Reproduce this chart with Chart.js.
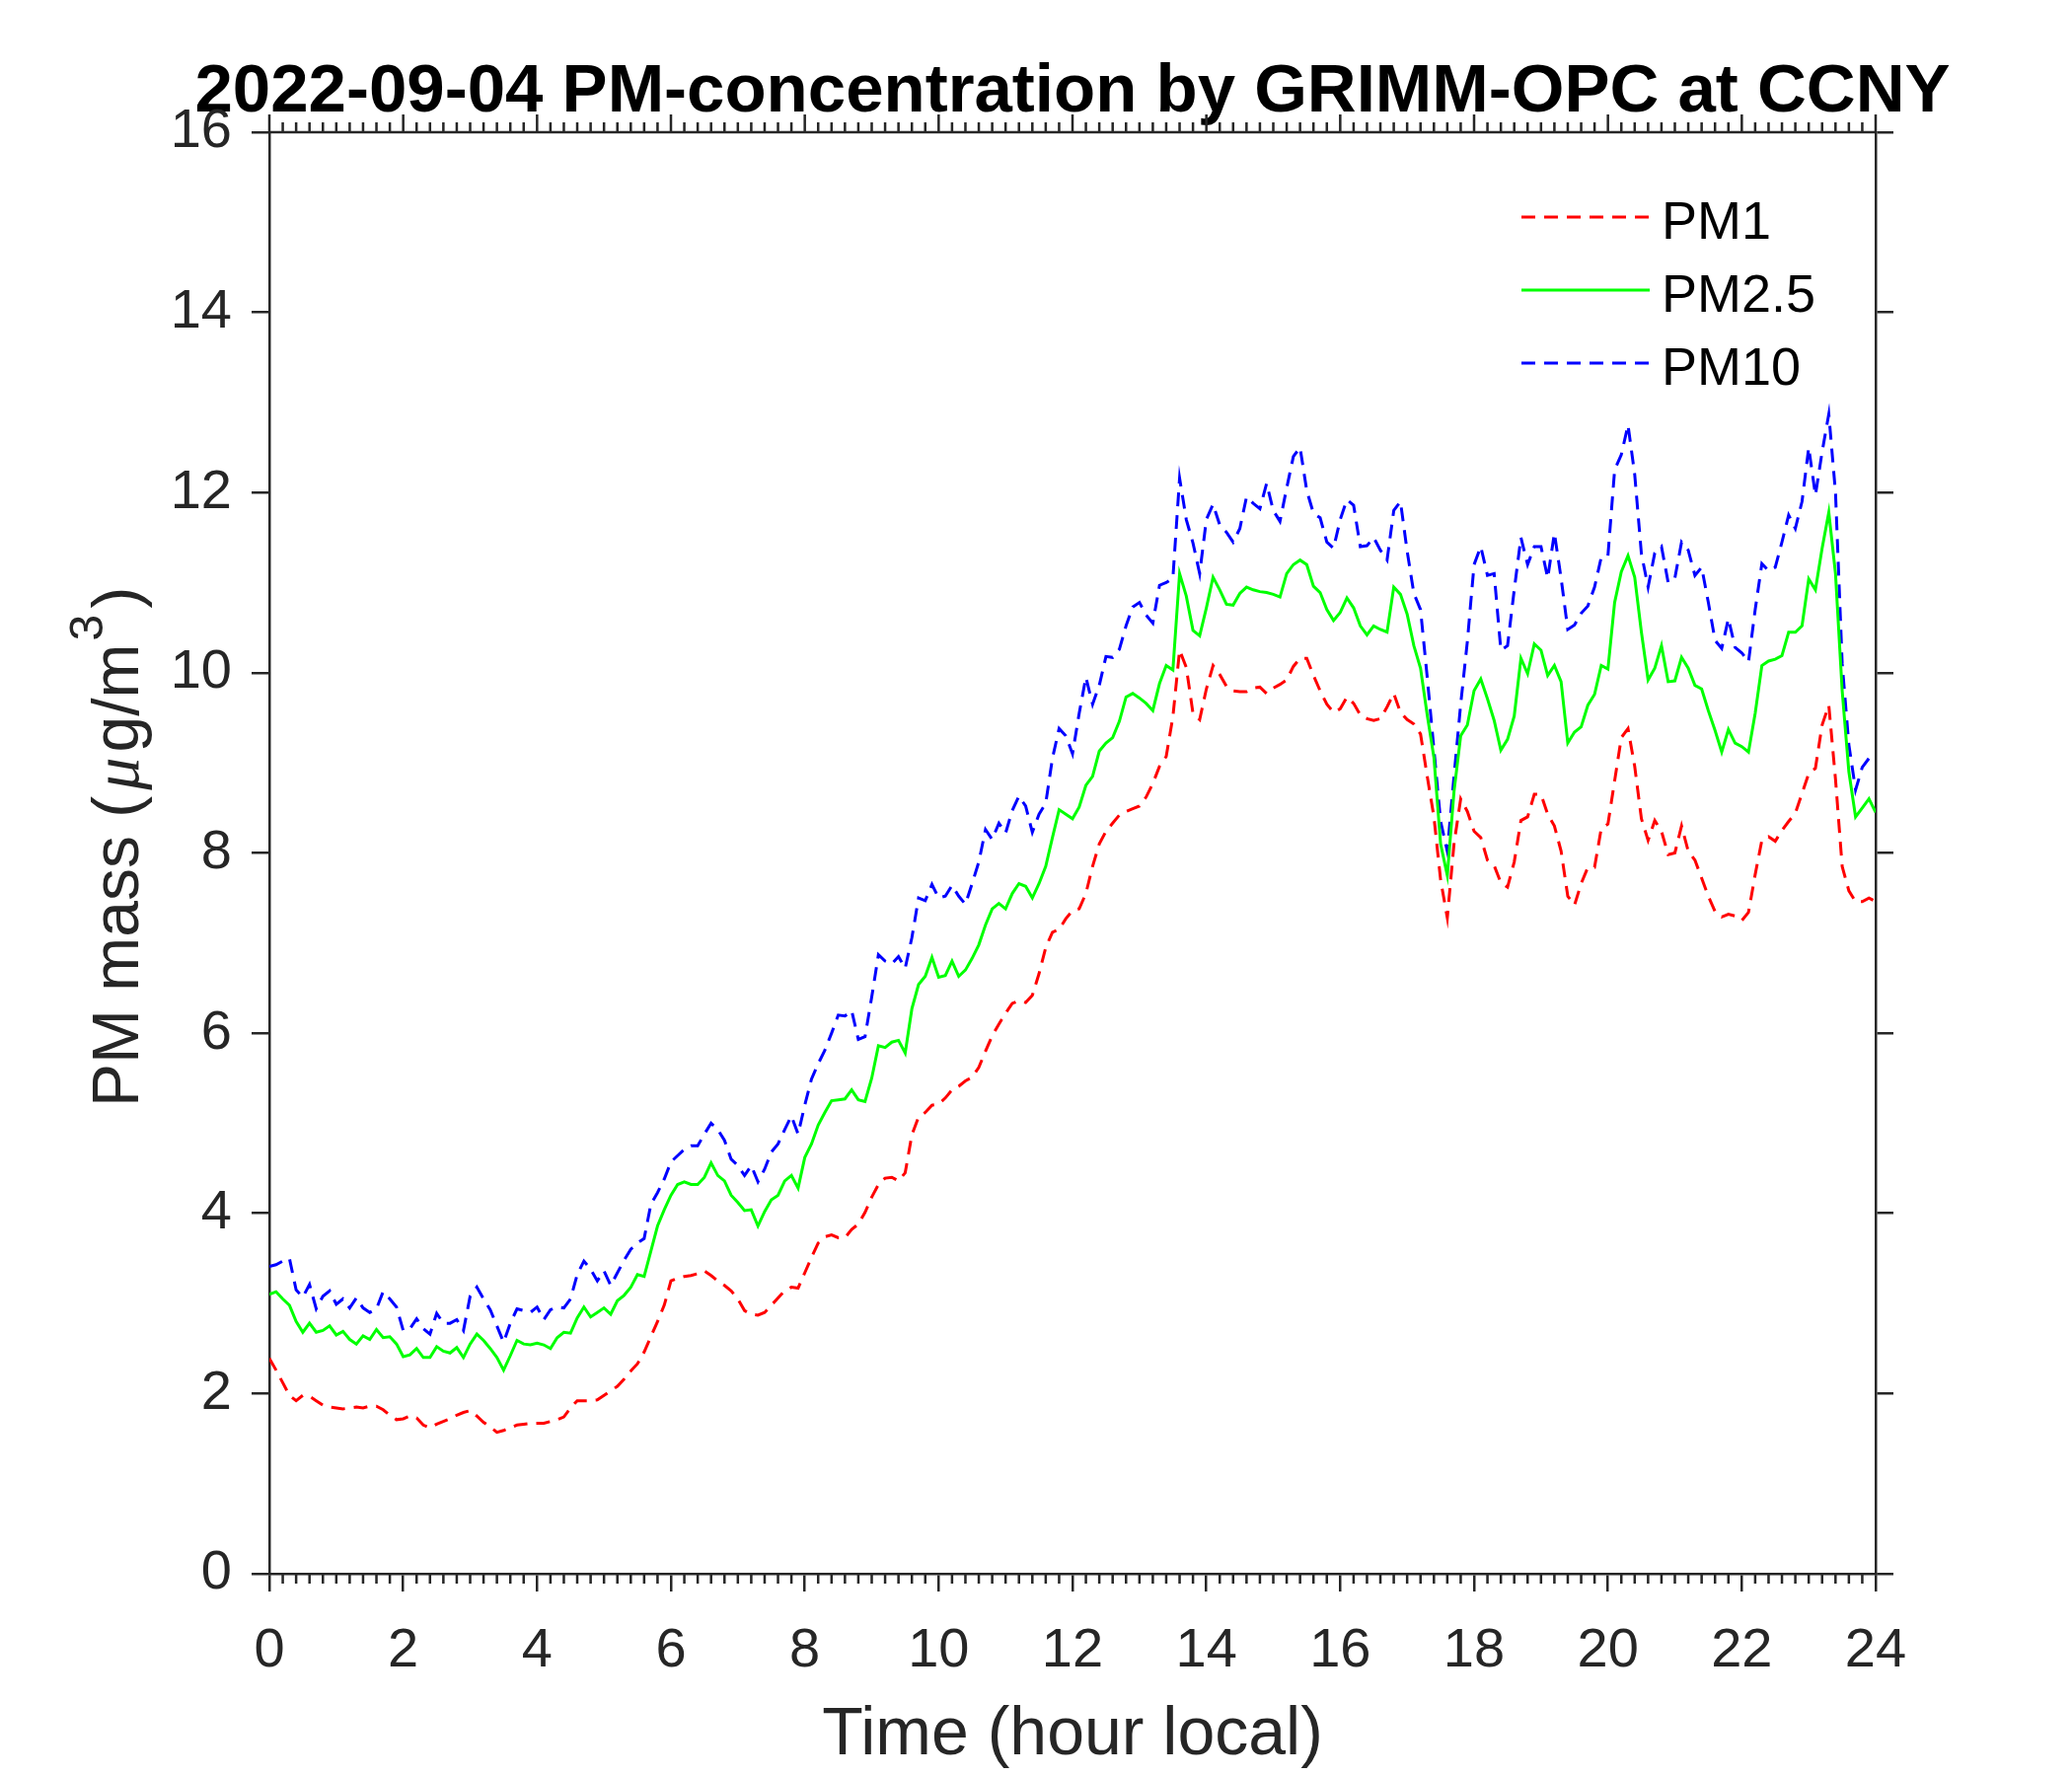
<!DOCTYPE html>
<html>
<head>
<meta charset="utf-8">
<title>PM-concentration by GRIMM-OPC at CCNY</title>
<script src="https://cdn.jsdelivr.net/npm/chart.js@4.4.1/dist/chart.umd.min.js"></script>
<style>
  html, body { margin: 0; padding: 0; background: #fff; }
  canvas { display: block; }
</style>
</head>
<body>
<canvas id="pmChart" width="2100" height="1800"></canvas>
<script>
// samples every 0.1 hour, 00:00 .. 24:00 local
const SAMPLE_STEP = 0.1;
const xTicks = [0, 2, 4, 6, 8, 10, 12, 14, 16, 18, 20, 22, 24];
const yTicks = [0, 2, 4, 6, 8, 10, 12, 14, 16];
const seriesNames = ["PM1", "PM2.5", "PM10"];

const pm1 = [
  2.39, 2.26, 2.12, 1.98, 1.92, 1.98, 1.97, 1.92, 1.87, 1.85,
  1.84, 1.83, 1.84, 1.85, 1.84, 1.86, 1.86, 1.82, 1.76, 1.71,
  1.72, 1.75, 1.73, 1.65, 1.62, 1.66, 1.69, 1.72, 1.76, 1.79,
  1.81, 1.75, 1.68, 1.63, 1.57, 1.59, 1.62, 1.65, 1.66, 1.67,
  1.67, 1.67, 1.69, 1.71, 1.74, 1.84, 1.92, 1.92, 1.92, 1.93,
  1.98, 2.03, 2.08, 2.16, 2.25, 2.33, 2.46, 2.63, 2.80, 2.98,
  3.25, 3.28, 3.30, 3.31, 3.33, 3.36, 3.31, 3.25, 3.20, 3.14,
  3.05, 2.92, 2.88, 2.87, 2.90, 2.98, 3.06, 3.14, 3.18, 3.17,
  3.34, 3.51, 3.67, 3.74, 3.76, 3.73, 3.73, 3.82, 3.88, 4.01,
  4.18, 4.32, 4.39, 4.40, 4.36, 4.45, 4.87, 5.07, 5.12, 5.20,
  5.21, 5.28, 5.37, 5.41, 5.47, 5.51, 5.62, 5.80, 5.97, 6.10,
  6.22, 6.33, 6.36, 6.34, 6.42, 6.66, 6.95, 7.12, 7.15, 7.27,
  7.36, 7.38, 7.55, 7.85, 8.10, 8.24, 8.33, 8.42, 8.46, 8.49,
  8.52, 8.62, 8.77, 8.96, 9.07, 9.51, 10.25, 10.06, 9.55, 9.48,
  9.82, 10.08, 9.98, 9.85, 9.80, 9.79, 9.79, 9.83, 9.84, 9.77,
  9.83, 9.87, 9.92, 10.07, 10.16, 10.16, 9.97, 9.80, 9.65, 9.56,
  9.60, 9.73, 9.66, 9.53, 9.49, 9.47, 9.49, 9.62, 9.77, 9.56,
  9.48, 9.43, 9.32, 8.85, 8.40, 7.70, 7.28, 8.10, 8.60, 8.46,
  8.24, 8.17, 7.92, 7.86, 7.67, 7.62, 7.90, 8.36, 8.40, 8.65,
  8.65, 8.43, 8.30, 8.02, 7.52, 7.42, 7.66, 7.84, 7.84, 8.27,
  8.32, 8.80, 9.28, 9.38, 8.96, 8.38, 8.14, 8.36, 8.24, 7.98,
  8.00, 8.30, 8.02, 7.92, 7.72, 7.52, 7.35, 7.29, 7.32, 7.30,
  7.25, 7.34, 7.76, 8.14, 8.18, 8.13, 8.25, 8.35, 8.44, 8.66,
  8.88, 8.94, 9.42, 9.64, 8.82, 7.85, 7.58, 7.46, 7.46, 7.50,
  7.46
];

const pm25 = [
  3.10, 3.13, 3.05, 2.98, 2.80, 2.68, 2.78, 2.68, 2.70, 2.75,
  2.65, 2.69, 2.60, 2.55, 2.64, 2.60, 2.71, 2.62, 2.63, 2.55,
  2.41, 2.43, 2.50, 2.40, 2.40, 2.52, 2.47, 2.45, 2.51, 2.40,
  2.55, 2.66, 2.59, 2.50, 2.40, 2.26, 2.42, 2.59, 2.55, 2.54,
  2.56, 2.54, 2.50, 2.62, 2.68, 2.67, 2.84, 2.96, 2.85, 2.90,
  2.95, 2.88, 3.03, 3.09, 3.18, 3.32, 3.30, 3.58, 3.86, 4.04,
  4.20, 4.32, 4.35, 4.32, 4.32, 4.40, 4.56, 4.42, 4.36, 4.20,
  4.12, 4.03, 4.04, 3.86, 4.02, 4.15, 4.20, 4.36, 4.42, 4.28,
  4.62, 4.77, 4.98, 5.12, 5.25, 5.26, 5.27, 5.37, 5.26, 5.24,
  5.50, 5.86, 5.84, 5.90, 5.92, 5.78, 6.27, 6.54, 6.63, 6.84,
  6.62, 6.64, 6.80, 6.63, 6.70, 6.83, 6.98, 7.20, 7.38, 7.44,
  7.38, 7.55, 7.66, 7.63, 7.50, 7.66, 7.85, 8.17, 8.48, 8.43,
  8.38, 8.51, 8.75, 8.85, 9.13, 9.22, 9.28, 9.46, 9.73, 9.77,
  9.72, 9.66, 9.58, 9.88, 10.08, 10.03, 11.10, 10.85, 10.47, 10.41,
  10.72, 11.06, 10.92, 10.76, 10.75, 10.88, 10.95, 10.92, 10.90, 10.89,
  10.87, 10.84, 11.10, 11.20, 11.25, 11.20, 10.96, 10.89, 10.70, 10.58,
  10.67, 10.83, 10.72, 10.52, 10.42, 10.52, 10.48, 10.45, 10.95, 10.87,
  10.65, 10.30, 10.05, 9.53, 9.06, 8.10, 7.75, 8.68, 9.30, 9.42,
  9.80, 9.93, 9.71, 9.47, 9.14, 9.26, 9.52, 10.16, 9.99, 10.32,
  10.25, 9.97, 10.08, 9.90, 9.22, 9.34, 9.40, 9.64, 9.76, 10.08,
  10.04, 10.78, 11.12, 11.30, 11.06, 10.45, 9.92, 10.05, 10.30, 9.90,
  9.91, 10.17, 10.05, 9.86, 9.82, 9.58, 9.36, 9.12, 9.37, 9.22,
  9.18, 9.12, 9.55, 10.08, 10.13, 10.15, 10.19, 10.45, 10.45, 10.52,
  11.04, 10.92, 11.38, 11.78, 11.10, 9.80, 8.90, 8.40, 8.50, 8.60,
  8.45
];

const pm10 = [
  3.41, 3.43, 3.47, 3.50, 3.15, 3.07, 3.21, 2.94, 3.08, 3.14,
  2.99, 3.05, 2.95, 3.06, 2.95, 2.90, 2.94, 3.13, 3.05, 2.96,
  2.70, 2.72, 2.83, 2.72, 2.66, 2.89, 2.78, 2.78, 2.82, 2.70,
  3.08, 3.18, 3.05, 2.93, 2.75, 2.57, 2.78, 2.94, 2.92, 2.90,
  2.96, 2.82, 2.93, 2.96, 2.95, 3.05, 3.32, 3.47, 3.38, 3.25,
  3.36, 3.20, 3.34, 3.48, 3.60, 3.67, 3.72, 4.10, 4.23, 4.38,
  4.57, 4.64, 4.71, 4.75, 4.75, 4.88, 5.00, 4.93, 4.81, 4.60,
  4.53, 4.42, 4.53, 4.35, 4.49, 4.68, 4.77, 4.93, 5.08, 4.88,
  5.20, 5.49, 5.66, 5.81, 6.00, 6.20, 6.19, 6.25, 5.93, 5.96,
  6.40, 6.87, 6.80, 6.77, 6.85, 6.72, 7.06, 7.50, 7.47, 7.65,
  7.50, 7.52, 7.64, 7.52, 7.43, 7.66, 7.90, 8.26, 8.15, 8.33,
  8.22, 8.47, 8.63, 8.52, 8.23, 8.43, 8.55, 9.05, 9.38, 9.30,
  9.10, 9.55, 9.95, 9.65, 9.86, 10.18, 10.17, 10.26, 10.52, 10.73,
  10.78, 10.64, 10.55, 10.97, 11.00, 11.05, 12.16, 11.70, 11.44, 11.10,
  11.70, 11.87, 11.64, 11.56, 11.45, 11.60, 11.95, 11.88, 11.82, 12.10,
  11.80, 11.68, 12.05, 12.40, 12.50, 12.02, 11.77, 11.72, 11.45, 11.38,
  11.70, 11.92, 11.86, 11.40, 11.41, 11.50, 11.36, 11.25, 11.80, 11.90,
  11.35, 10.88, 10.70, 9.95, 9.15, 8.35, 8.02, 8.85, 9.65, 10.35,
  11.20, 11.40, 11.08, 11.10, 10.25, 10.30, 10.92, 11.50, 11.20, 11.40,
  11.40, 11.05, 11.55, 11.05, 10.48, 10.53, 10.66, 10.74, 10.95, 11.28,
  11.30, 12.25, 12.42, 12.75, 12.20, 11.32, 10.95, 11.33, 11.40, 11.00,
  11.05, 11.45, 11.36, 11.08, 11.17, 10.78, 10.36, 10.27, 10.60, 10.28,
  10.22, 10.12, 10.70, 11.21, 11.13, 11.17, 11.45, 11.75, 11.60, 11.90,
  12.50, 11.97, 12.45, 12.87, 12.00, 10.10, 9.20, 8.70, 8.95, 9.05,
  9.06
];

const hours = pm1.map((_, i) => +(i * SAMPLE_STEP).toFixed(2));

const FONT = '"Liberation Sans", Arial, Helvetica, sans-serif';
const AXIS_COLOR = '#262626';
const MINOR_STEP = 0.2;

function toPoints(values) {
  return values.map((v, i) => ({ x: hours[i], y: v }));
}

// MATLAB style box: top frame with outward ticks, minor x ticks below
const boxAxes = {
  id: 'boxAxes',
  afterDraw(chart) {
    const { ctx, chartArea: a, scales } = chart;
    const x = scales.x;
    const major = 18, minor = 10;
    ctx.save();
    ctx.strokeStyle = AXIS_COLOR;
    ctx.lineWidth = 2.5;
    ctx.beginPath();
    ctx.moveTo(a.left, a.top);
    ctx.lineTo(a.right, a.top);
    const n = Math.round((x.max - x.min) / MINOR_STEP);
    for (let i = 0; i <= n; i++) {
      const px = x.getPixelForValue(x.min + i * MINOR_STEP);
      const isMajor = i % 10 === 0;
      ctx.moveTo(px, a.top);
      ctx.lineTo(px, a.top - (isMajor ? major : minor));
      if (!isMajor) {
        ctx.moveTo(px, a.bottom);
        ctx.lineTo(px, a.bottom + minor);
      }
    }
    ctx.stroke();
    ctx.restore();
  }
};

// y axis label with italic mu and a raised 3, like the TeX label
const yAxisLabel = {
  id: 'yAxisLabel',
  afterDraw(chart) {
    const { ctx, chartArea: a } = chart;
    const parts = [
      { t: 'PM mass (', f: '66px ' + FONT, dy: 0, gap: 6 },
      { t: '\u03bc', f: 'italic 66px "Liberation Serif", serif', dy: 0, gap: 5 },
      { t: 'g/m', f: '66px ' + FONT, dy: 0, gap: 3 },
      { t: '3', f: '48px ' + FONT, dy: -36, gap: 6 },
      { t: ')', f: '66px ' + FONT, dy: 0, gap: 0 }
    ];
    ctx.save();
    let total = 0;
    parts.forEach(p => { ctx.font = p.f; p.w = ctx.measureText(p.t).width + p.gap; total += p.w; });
    ctx.translate(140, (a.top + a.bottom) / 2 - 6);
    ctx.rotate(-Math.PI / 2);
    ctx.fillStyle = AXIS_COLOR;
    ctx.textBaseline = 'alphabetic';
    ctx.textAlign = 'left';
    let cx = -total / 2;
    parts.forEach(p => {
      ctx.font = p.f;
      ctx.fillText(p.t, cx, p.dy);
      cx += p.w;
    });
    ctx.restore();
  }
};

// legend drawn inside the axes, upper right, no box
const insideLegend = {
  id: 'insideLegend',
  afterDatasetsDraw(chart) {
    const { ctx, chartArea: a } = chart;
    ctx.save();
    ctx.font = '54px ' + FONT;
    ctx.fillStyle = '#000';
    ctx.textBaseline = 'alphabetic';
    ctx.textAlign = 'left';
    chart.data.datasets.forEach((ds, i) => {
      const base = a.top + 108 + i * 74;
      ctx.beginPath();
      ctx.strokeStyle = ds.borderColor;
      ctx.lineWidth = ds.borderWidth;
      ctx.setLineDash(ds.borderDash || []);
      ctx.moveTo(a.right - 359, base - 22);
      ctx.lineTo(a.right - 229, base - 22);
      ctx.stroke();
      ctx.fillText(ds.label, a.right - 217, base);
    });
    ctx.restore();
  }
};

const tickFont = { family: FONT, size: 56 };
const outwardGrid = { drawOnChartArea: false, drawTicks: true, tickLength: 18, color: AXIS_COLOR, lineWidth: 2.5 };
const axisBorder = { display: true, color: AXIS_COLOR, width: 2.5 };

new Chart('pmChart', {
  type: 'line',
  data: {
    datasets: [{
      label: seriesNames[0],
      data: toPoints(pm1),
      borderColor: '#ff0000',
      borderWidth: 3,
      borderDash: [14, 9]
    }, {
      label: seriesNames[1],
      data: toPoints(pm25),
      borderColor: '#00ff00',
      borderWidth: 3
    }, {
      label: seriesNames[2],
      data: toPoints(pm10),
      borderColor: '#0000ff',
      borderWidth: 3,
      borderDash: [14, 9]
    }]
  },
  options: {
    responsive: false,
    devicePixelRatio: 1,
    animation: false,
    layout: { padding: { left: 74, right: 0, top: 0, bottom: 0 } },
    elements: { point: { radius: 0 }, line: { tension: 0, fill: false } },
    plugins: {
      legend: { display: false },
      tooltip: { enabled: false },
      title: {
        display: true,
        text: '2022-09-04 PM-concentration by GRIMM-OPC at CCNY',
        color: '#000',
        font: { family: FONT, size: 69, weight: 'bold', lineHeight: 1.1 },
        padding: { top: 56, bottom: 2 }
      }
    },
    scales: {
      x: {
        type: 'linear',
        min: 0,
        max: 24,
        afterBuildTicks: s => { s.ticks = xTicks.map(v => ({ value: v })); },
        afterFit: s => { s.height = 205; },
        ticks: { color: AXIS_COLOR, font: tickFont, padding: 27, maxRotation: 0 },
        grid: outwardGrid,
        border: axisBorder,
        title: {
          display: true,
          text: 'Time (hour local)',
          color: AXIS_COLOR,
          font: { family: FONT, size: 68 },
          padding: { top: 0, bottom: 0 }
        }
      },
      y: {
        type: 'linear',
        position: 'left',
        min: 0,
        max: 16,
        afterBuildTicks: s => { s.ticks = yTicks.map(v => ({ value: v })); },
        afterFit: s => { s.width = 199; },
        ticks: { color: AXIS_COLOR, font: tickFont, padding: 20 },
        grid: outwardGrid,
        border: axisBorder
      },
      yRight: {
        type: 'linear',
        position: 'right',
        min: 0,
        max: 16,
        afterBuildTicks: s => { s.ticks = yTicks.map(v => ({ value: v })); },
        afterFit: s => { s.width = 199; },
        ticks: { display: false },
        grid: outwardGrid,
        border: axisBorder
      }
    }
  },
  plugins: [boxAxes, yAxisLabel, insideLegend]
});
</script>
</body>
</html>
